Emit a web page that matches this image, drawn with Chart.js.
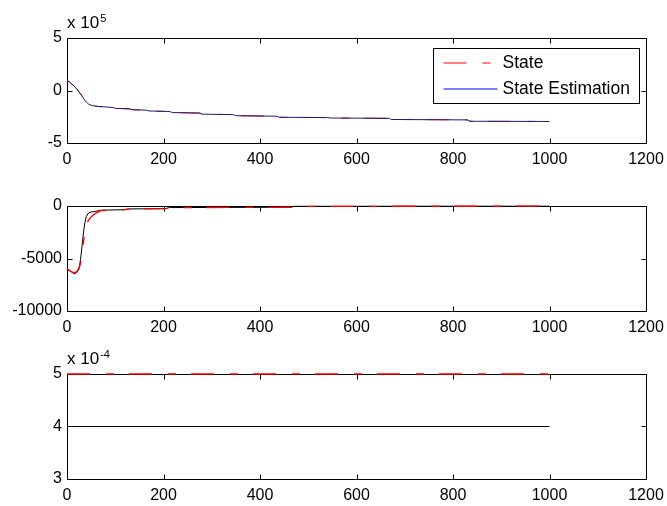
<!DOCTYPE html>
<html>
<head>
<meta charset="utf-8">
<script src="https://cdn.jsdelivr.net/npm/chart.js@4.4.0/dist/chart.umd.min.js"></script>
<style>
body{margin:0;background:#fff;}
#wrap{position:relative;width:667px;height:506px;overflow:hidden;background:#fff;}
canvas{position:absolute;left:0;}
</style>
</head>
<body>
<div id="wrap">
<canvas id="c1" width="667" height="170" style="top:0px"></canvas>
<canvas id="c2" width="667" height="170" style="top:168px"></canvas>
<canvas id="c3" width="667" height="170" style="top:336px"></canvas>
</div>
<script>
// tick labels
const xTickVals = [0, 200, 400, 600, 800, 1000, 1200]
const y1Ticks = [-500000, 0, 500000]
const y2Ticks = [-10000, -5000, 0]
const y3Ticks = [0.0003, 0.0004, 0.0005]
const seriesNames = ['State', 'State Estimation']

// subplot 1
const x1 = [0, 5, 10, 15, 20, 25, 30, 35, 40, 45, 50, 60, 75, 95, 100, 130, 135, 165, 170, 213, 218, 275, 280, 345, 350, 435, 440, 540, 545, 668, 672, 830, 835, 1000]
const state1 = [98000, 82000, 62000, 42000, 17000, -13000, -44000, -79000, -110000, -130000, -141000, -150000, -156000, -162000, -170000, -175000, -183000, -188000, -195000, -200000, -210000, -215000, -225000, -230000, -240000, -245000, -255000, -258000, -262000, -265000, -276000, -280000, -293000, -295000]
const est1 = [96000, 80000, 60000, 40000, 15000, -15000, -45000, -80000, -110000, -130000, -140000, -150000, -155000, -162000, -170000, -175000, -183000, -187000, -195000, -200000, -210000, -215000, -225000, -230000, -240000, -245000, -255000, -258000, -262000, -265000, -276000, -280000, -293000, -295000]

// subplot 2
const x2 = [0, 5, 10, 15, 20, 25, 28, 31, 34, 37, 40, 44, 48, 52, 56, 60, 65, 70, 120, 128, 205, 212, 465, 470, 1000]
const state2 = [-6000, -6150, -6280, -6350, -6280, -5900, -5500, -4600, -3500, -2500, -1800, -1400, -1150, -950, -800, -680, -560, -450, -350, -280, -250, -150, -120, -30, -20]
const est2 = [-6000, -6100, -6300, -6450, -6350, -6000, -5100, -3900, -2600, -1600, -1000, -700, -600, -550, -530, -500, -450, -400, -350, -280, -250, -150, -120, -30, -20]

// subplot 3
const x3 = [0, 1000]
const state3 = [0.0005, 0.0005]
const est3 = [0.0004, 0.0004]

const legendColors = ['#ff0000', '#0000ff']

Chart.defaults.font.family = '"Liberation Sans", Arial, sans-serif'
Chart.defaults.font.size = 16
Chart.defaults.color = '#000'

const pts = (xs, ys) => xs.map((v, i) => ({x: v, y: ys[i]}))

const framePlugin = {
  id: 'frame',
  beforeDatasetsDraw(chart){
    const ctx = chart.ctx, a = chart.chartArea
    const xs = chart.scales.x, ys = chart.scales.y
    const l = Math.round(a.left) + 0.5, r = Math.round(a.right) + 0.5
    const t = Math.round(a.top) + 0.5, b = Math.round(a.bottom) + 0.5
    ctx.save()
    ctx.strokeStyle = '#000'
    ctx.lineWidth = 1
    ctx.strokeRect(l, t, r - l, b - t)
    ctx.beginPath()
    xs.ticks.forEach(tk => {
      const px = Math.round(xs.getPixelForValue(tk.value)) + 0.5
      ctx.moveTo(px, b); ctx.lineTo(px, b - 5)
      ctx.moveTo(px, t); ctx.lineTo(px, t + 5)
    })
    ys.ticks.forEach(tk => {
      const py = Math.round(ys.getPixelForValue(tk.value)) + 0.5
      ctx.moveTo(l, py); ctx.lineTo(l + 5, py)
      ctx.moveTo(r, py); ctx.lineTo(r - 5, py)
    })
    ctx.stroke()
    ctx.restore()
  }
}

const expoPlugin = {
  id: 'expo',
  afterDraw(chart, args, opts){
    if(opts.power === undefined) return
    const ctx = chart.ctx, a = chart.chartArea
    ctx.save()
    ctx.fillStyle = '#000'
    ctx.textBaseline = 'alphabetic'
    ctx.font = '17px "Liberation Sans", Arial, sans-serif'
    ctx.fillText('x 10', a.left, a.top - 10)
    const w = ctx.measureText('x 10').width
    ctx.font = '11px "Liberation Sans", Arial, sans-serif'
    ctx.fillText(opts.power, a.left + w + 1, a.top - 16)
    ctx.restore()
  }
}

const boxLegend = {
  id: 'boxLegend',
  afterDraw(chart, args, opts){
    if(!opts.show) return
    const ctx = chart.ctx, a = chart.chartArea
    const w = 206, h = 55
    const left = Math.round(a.right - 7 - w) + 0.5, top = Math.round(a.top + 10) + 0.5
    ctx.save()
    ctx.fillStyle = '#fff'
    ctx.fillRect(left, top, w, h)
    ctx.strokeStyle = '#000'
    ctx.lineWidth = 1
    ctx.strokeRect(left, top, w, h)
    chart.data.datasets.forEach((ds, i) => {
      const cy = Math.round(top + 14 + i * 26)
      ctx.beginPath()
      ctx.strokeStyle = legendColors[i]
      ctx.lineWidth = 1.2
      ctx.setLineDash(i === 0 ? [23, 16, 8, 15] : [])
      ctx.moveTo(left + 10, cy)
      ctx.lineTo(left + 64, cy)
      ctx.stroke()
      ctx.setLineDash([])
      ctx.fillStyle = '#000'
      ctx.textBaseline = 'middle'
      ctx.font = '17.5px "Liberation Sans", Arial, sans-serif'
      ctx.fillText(ds.label, left + 69, cy)
    })
    ctx.restore()
  }
}

const makeChart = (id, xs, st, es, yTicks, yMin, yMax, opt) => {
  const ctx = document.getElementById(id).getContext('2d')
  return new Chart(ctx, {
    type: 'line',
    data: {
      datasets: [
        {label: seriesNames[0], data: pts(xs, st), borderColor: '#ff0000', borderWidth: opt.stateWidth, borderDash: [23, 16, 8, 15], pointRadius: 0, tension: 0, order: opt.stateOrder, clip: false},
        {label: seriesNames[1], data: pts(xs, es), borderColor: opt.estColor, borderWidth: 1, pointRadius: 0, tension: 0, order: opt.estOrder, clip: false}
      ]
    },
    options: {
      responsive: false,
      animation: false,
      layout: {padding: {top: 38, right: 21, left: 0, bottom: 0}},
      plugins: {
        legend: {display: false},
        tooltip: {enabled: false},
        expo: {power: opt.power},
        boxLegend: {show: opt.legend}
      },
      scales: {
        x: {
          type: 'linear', min: 0, max: 1200,
          grid: {display: false, drawTicks: false},
          border: {display: false},
          afterBuildTicks: s => { s.ticks = xTickVals.map(v => ({value: v})) },
          afterFit: s => { s.height = 27; s.paddingLeft = 0; s.paddingRight = 0 },
          ticks: {padding: 7, maxRotation: 0, autoSkip: false, callback: v => String(v)}
        },
        y: {
          type: 'linear', min: yMin, max: yMax,
          grid: {display: false, drawTicks: false},
          border: {display: false},
          afterBuildTicks: s => { s.ticks = yTicks.map(v => ({value: v})) },
          afterFit: s => { s.width = 67; s.paddingTop = 0; s.paddingBottom = 0 },
          ticks: {padding: 5, autoSkip: false, callback: opt.fmt}
        }
      }
    },
    plugins: [framePlugin, expoPlugin, boxLegend]
  })
}

makeChart('c1', x1, state1, est1, y1Ticks, -500000, 500000, {estColor: '#1c1c78', stateWidth: 1, stateOrder: 2, estOrder: 1, power: '5', legend: true, fmt: v => String(Math.round(v / 100000))})
makeChart('c2', x2, state2, est2, y2Ticks, -10000, 0, {estColor: '#000000', stateWidth: 1.3, stateOrder: 1, estOrder: 2, legend: false, fmt: v => String(v)})
makeChart('c3', x3, state3, est3, y3Ticks, 0.0003, 0.0005, {estColor: '#000000', stateWidth: 1.6, stateOrder: 1, estOrder: 2, power: '-4', legend: false, fmt: v => String(Math.round(v / 0.0001))})
</script>
</body>
</html>
